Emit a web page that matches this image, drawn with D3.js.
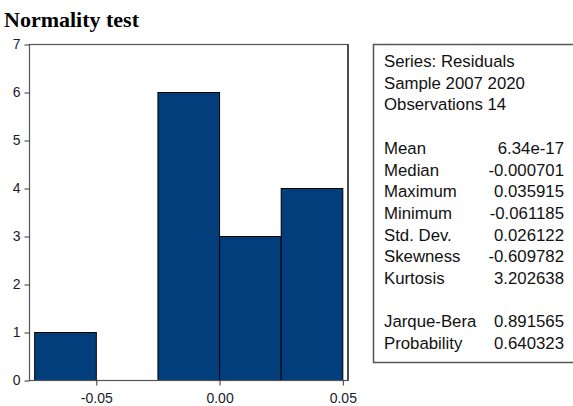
<!DOCTYPE html>
<html>
<head>
<meta charset="utf-8">
<script src="https://cdn.jsdelivr.net/npm/d3@7"></script>
<style>
  body { margin: 0; background: #fff; }
  svg { display: block; }
</style>
</head>
<body>
<div id="chart"></div>
<script>
// histogram bins (left edge), bin width and counts
var binStart = [-0.075, -0.05, -0.025, 0, 0.025];
var binWidth = 0.025;
var counts = [1, 0, 6, 3, 4];
var xTicks = [-0.05, 0, 0.05];
var yTicks = [0, 1, 2, 3, 4, 5, 6, 7];

// stats panel
var headerLines = ["Series: Residuals", "Sample 2007 2020", "Observations 14"];
var statNames = ["Mean", "Median", "Maximum", "Minimum", "Std. Dev.", "Skewness", "Kurtosis"];
var statValues = ["6.34e-17", "-0.000701", "0.035915", "-0.061185", "0.026122", "-0.609782", "3.202638"];
var testNames = ["Jarque-Bera", "Probability"];
var testValues = ["0.891565", "0.640323"];

var W = 573, H = 406;
var svg = d3.select("#chart").append("svg")
    .attr("width", W)
    .attr("height", H);

// title
svg.append("text")
    .attr("x", 4)
    .attr("y", 27)
    .style("font-family", "'Liberation Serif', 'Times New Roman', serif")
    .style("font-weight", "bold")
    .style("font-size", "22px")
    .text("Normality test");

var x = d3.scaleLinear().domain([-0.0771, 0.0521]).range([29.5, 348]);
var y = d3.scaleLinear().domain([0, 7]).range([380.5, 44.5]);

var data = binStart.map(function(s, i) { return {x0: s, x1: s + binWidth, n: counts[i]}; });

// bars
svg.selectAll("rect.bar")
    .data(data.filter(function(d) { return d.n > 0; }))
    .enter()
    .append("rect")
    .attr("class", "bar")
    .attr("x", function(d) { return x(d.x0); })
    .attr("y", function(d) { return y(d.n); })
    .attr("width", function(d) { return x(d.x1) - x(d.x0); })
    .attr("height", function(d) { return y(0) - y(d.n); })
    .style("fill", "#023e7c")
    .style("stroke", "#000")
    .style("stroke-width", 1);

// frame
svg.append("rect")
    .attr("x", x.range()[0])
    .attr("y", y.range()[1])
    .attr("width", x.range()[1] - x.range()[0])
    .attr("height", y.range()[0] - y.range()[1])
    .style("fill", "none")
    .style("stroke", "#555")
    .style("stroke-width", 1.2);
svg.append("line")
    .attr("x1", x.range()[1]).attr("x2", x.range()[1])
    .attr("y1", y.range()[1]).attr("y2", y.range()[0])
    .style("stroke", "#000");

// axes (hyphen minus like the original, not the unicode one d3 uses)
var fmtX = function(d) { return d3.format(".2f")(d).replace("\u2212", "-"); };
var yAxis = svg.append("g")
    .attr("transform", "translate(" + x.range()[0] + ",0)")
    .call(d3.axisLeft(y).tickValues(yTicks).tickFormat(d3.format("d")).tickSize(5).tickSizeOuter(0).tickPadding(4));
var xAxis = svg.append("g")
    .attr("transform", "translate(0," + y.range()[0] + ")")
    .call(d3.axisBottom(x).tickValues(xTicks).tickFormat(fmtX).tickSize(5).tickSizeOuter(0).tickPadding(8));

[yAxis, xAxis].forEach(function(g) {
  g.select(".domain").remove();
  g.selectAll(".tick line").style("stroke", "#333");
  g.selectAll(".tick text")
      .style("font-family", "'Liberation Sans', Arial, sans-serif")
      .style("font-size", "14px")
      .style("fill", "#1a1a2a");
});

// stats box
svg.append("rect")
    .attr("x", 373.5)
    .attr("y", 44.5)
    .attr("width", 220)
    .attr("height", 318)
    .style("fill", "#fff")
    .style("stroke", "#555")
    .style("stroke-width", 1.5);

var lineH = 21.7, top0 = 67, tx = 384, vx = 564;
var font = "'Liberation Sans', Arial, sans-serif";

function addText(str, xx, row, anchor) {
  svg.append("text")
      .attr("x", xx)
      .attr("y", top0 + row * lineH)
      .attr("text-anchor", anchor)
      .style("font-family", font)
      .style("font-size", "16.8px")
      .style("fill", "#111")
      .text(str);
}

headerLines.forEach(function(s, i) { addText(s, tx, i, "start"); });
statNames.forEach(function(s, i) {
  addText(s, tx, 4 + i, "start");
  addText(statValues[i], vx, 4 + i, "end");
});
testNames.forEach(function(s, i) {
  addText(s, tx, 12 + i, "start");
  addText(testValues[i], vx, 12 + i, "end");
});
</script>
</body>
</html>
